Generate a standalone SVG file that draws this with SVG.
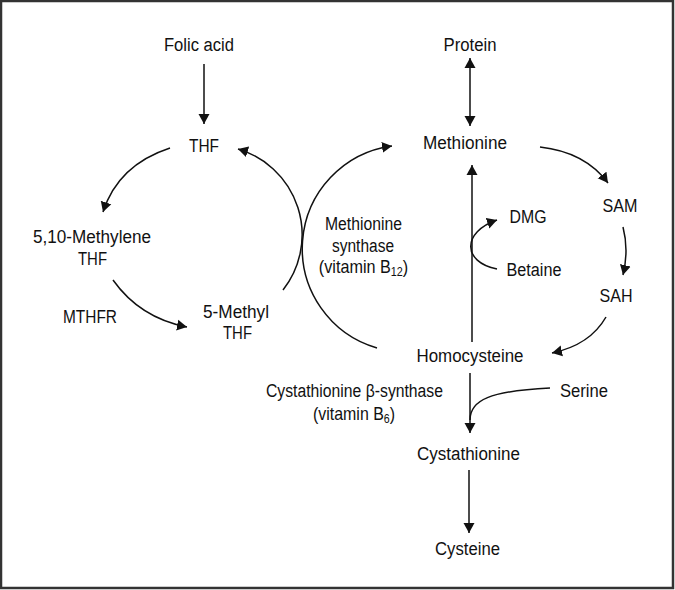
<svg xmlns="http://www.w3.org/2000/svg" width="675" height="590" viewBox="0 0 675 590">
<style>
text{font-family:"Liberation Sans",Arial,sans-serif;font-size:18px;fill:#111;text-anchor:middle}
.c path,.c line{fill:none;stroke:#111;stroke-width:1.5}
.sub{font-size:12px}
</style>
<defs>
<marker id="ah" markerUnits="userSpaceOnUse" markerWidth="11" markerHeight="12" refX="10" refY="5.5" orient="auto-start-reverse" viewBox="0 0 11 11">
<path d="M0,0 L10,5.5 L0,11 z" fill="#111"/>
</marker>
</defs>
<rect x="1" y="1" width="672" height="587" fill="#fff" stroke="#333" stroke-width="2.5"/>
<g class="c" id="connectors">
<line x1="204" y1="64" x2="204" y2="124" marker-end="url(#ah)"/>
<path d="M170,148 Q118,165 103,212" marker-end="url(#ah)"/>
<path d="M113,280 Q140,318 187,327" marker-end="url(#ah)"/>
<path d="M283,290 A89.4,89.4 0 0 0 238,149" marker-end="url(#ah)"/>
<path d="M377,348 A103.5,103.5 0 0 1 392,146" marker-end="url(#ah)"/>
<line x1="470" y1="58" x2="470" y2="126" marker-start="url(#ah)" marker-end="url(#ah)"/>
<path d="M540,147 Q585,152 608,183" marker-end="url(#ah)"/>
<path d="M623,227 Q629,250 623,275" marker-end="url(#ah)"/>
<path d="M606,317 Q590,345 552,353" marker-end="url(#ah)"/>
<path d="M497,269 C462,262 462,232 497,220" marker-end="url(#ah)"/>
<line x1="472" y1="342" x2="472" y2="165" marker-end="url(#ah)"/>
<line x1="470" y1="373" x2="470" y2="433" marker-end="url(#ah)"/>
<path d="M550,388 C490,391 470,400 470,420"/>
<line x1="469" y1="470" x2="469" y2="533" marker-end="url(#ah)"/>
</g>
<g id="folic"><text x="199" y="51" textLength="70" lengthAdjust="spacingAndGlyphs">Folic acid</text></g>
<g id="thf"><text x="204" y="152" textLength="30" lengthAdjust="spacingAndGlyphs">THF</text></g>
<g id="methylene"><text x="92" y="243" textLength="118" lengthAdjust="spacingAndGlyphs">5,10-Methylene</text><text x="92.5" y="265" textLength="29" lengthAdjust="spacingAndGlyphs">THF</text></g>
<g id="mthfr"><text x="90" y="323" textLength="54" lengthAdjust="spacingAndGlyphs">MTHFR</text></g>
<g id="methylthf"><text x="236" y="318" textLength="66" lengthAdjust="spacingAndGlyphs">5-Methyl</text><text x="237.5" y="339" textLength="29" lengthAdjust="spacingAndGlyphs">THF</text></g>
<g id="protein"><text x="470" y="51" textLength="53" lengthAdjust="spacingAndGlyphs">Protein</text></g>
<g id="methionine"><text x="465" y="149" textLength="84" lengthAdjust="spacingAndGlyphs">Methionine</text></g>
<g id="sam"><text x="620" y="212" textLength="35" lengthAdjust="spacingAndGlyphs">SAM</text></g>
<g id="sah"><text x="616" y="302" textLength="33" lengthAdjust="spacingAndGlyphs">SAH</text></g>
<g id="dmg"><text x="528" y="223" textLength="37" lengthAdjust="spacingAndGlyphs">DMG</text></g>
<g id="betaine"><text x="534" y="276" textLength="55" lengthAdjust="spacingAndGlyphs">Betaine</text></g>
<g id="msynthase"><text x="363.5" y="230" textLength="77" lengthAdjust="spacingAndGlyphs">Methionine</text><text x="363" y="252" textLength="62" lengthAdjust="spacingAndGlyphs">synthase</text><text transform="translate(363.5,273) scale(0.9,1)" x="0" y="0">(vitamin B<tspan class="sub" dy="3">12</tspan><tspan dy="-3">)</tspan></text></g>
<g id="homocysteine"><text x="470" y="362" textLength="107" lengthAdjust="spacingAndGlyphs">Homocysteine</text></g>
<g id="cbs"><text x="354.5" y="397" textLength="177" lengthAdjust="spacingAndGlyphs">Cystathionine β-synthase</text><text transform="translate(354,420) scale(0.885,1)" x="0" y="0">(vitamin B<tspan class="sub" dy="3">6</tspan><tspan dy="-3">)</tspan></text></g>
<g id="serine"><text x="584" y="397" textLength="48" lengthAdjust="spacingAndGlyphs">Serine</text></g>
<g id="cystathionine"><text x="468.5" y="460" textLength="103" lengthAdjust="spacingAndGlyphs">Cystathionine</text></g>
<g id="cysteine"><text x="467.5" y="555" textLength="65" lengthAdjust="spacingAndGlyphs">Cysteine</text></g>
</svg>
